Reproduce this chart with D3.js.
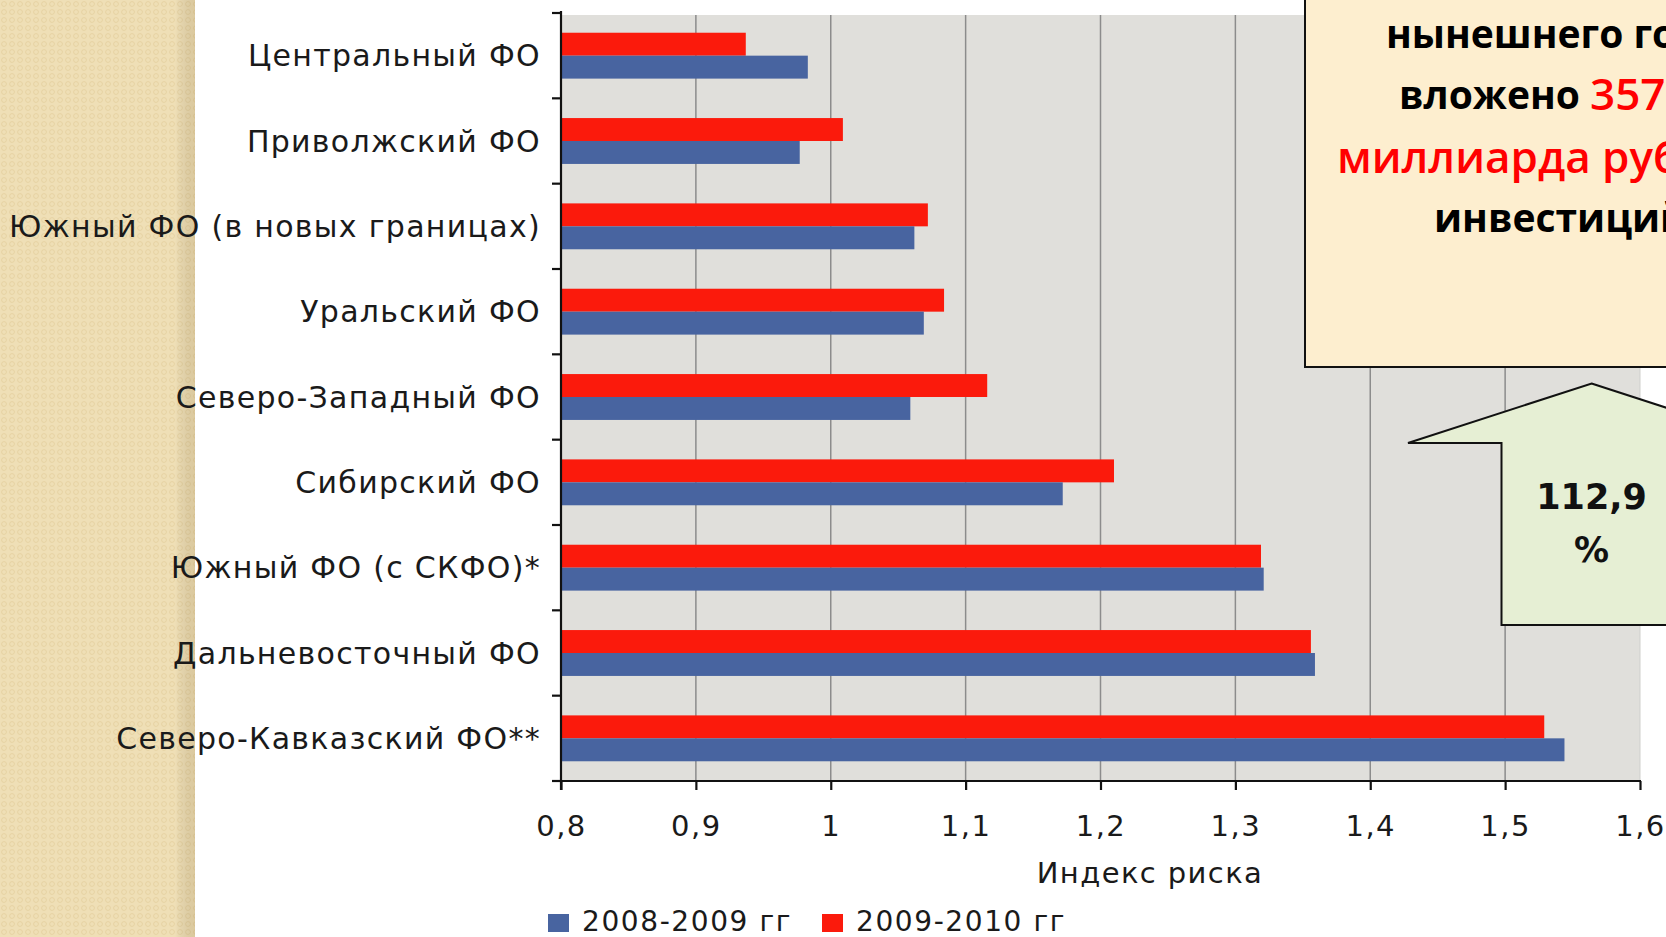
<!DOCTYPE html>
<html><head><meta charset="utf-8">
<script src="https://cdn.jsdelivr.net/npm/d3@7"></script>
<style>html,body{margin:0;padding:0;background:#fff;overflow:hidden}svg{display:block}</style>
</head><body>
<svg id="c" width="1666" height="937"></svg>
<script>
const categories = ["Центральный ФО","Приволжский ФО","Южный ФО (в новых границах)","Уральский ФО","Северо-Западный ФО","Сибирский ФО","Южный ФО (с СКФО)*","Дальневосточный ФО","Северо-Кавказский ФО**"];
const series = ["2009-2010 гг","2008-2009 гг"];
const values2009_2010 = [0.937,1.009,1.072,1.084,1.116,1.210,1.319,1.356,1.529];
const values2008_2009 = [0.983,0.977,1.062,1.069,1.059,1.172,1.321,1.359,1.544];
const xTicks = [0.8,0.9,1.0,1.1,1.2,1.3,1.4,1.5,1.6];
const legendItems = ["2008-2009 гг","2009-2010 гг"];
const colors = {"2008-2009 гг":"#4864a0","2009-2010 гг":"#fb1a0c"};
const xTitle = "Индекс риска";
const calloutLines = [["нынешнего года",null],["вложено ","357"],[null,"миллиарда рублей"],["инвестиций",null]];
const arrowText = ["112,9","%"];

const svg = d3.select("#c");
const defs = svg.append("defs");
const pat = defs.append("pattern").attr("id","tex").attr("width",8).attr("height",8).attr("patternUnits","userSpaceOnUse");
pat.append("rect").attr("width",8).attr("height",8).attr("fill","#efdfb6");
pat.append("circle").attr("cx",4).attr("cy",4).attr("r",2.4).attr("fill","none").attr("stroke","#e4d09f").attr("stroke-width",0.9);
const g1 = defs.append("linearGradient").attr("id","shade").attr("x1",0).attr("x2",1);
g1.append("stop").attr("offset",0).attr("stop-color","#000").attr("stop-opacity",0);
g1.append("stop").attr("offset",1).attr("stop-color","#8a6a30").attr("stop-opacity",0.18);

// left decorative panel
svg.append("rect").attr("x",0).attr("y",0).attr("width",195).attr("height",937).attr("fill","url(#tex)");
svg.append("rect").attr("x",175).attr("y",0).attr("width",20).attr("height",937).attr("fill","url(#shade)");

const x = d3.scaleLinear().domain([0.8,1.6]).range([561,1640]);
const y = d3.scaleBand().domain(categories).range([13,781]);
const ys = d3.scaleBand().domain(series).range([0,y.bandwidth()]).paddingOuter(0.86);

// plot background
svg.append("rect").attr("x",x(0.8)).attr("y",15).attr("width",x(1.6)-x(0.8)).attr("height",781-15).attr("fill","#e0dfdb");

// grid
svg.append("g").selectAll("line").data(xTicks.slice(1,-1)).join("line")
  .attr("x1",d=>x(d)).attr("x2",d=>x(d)).attr("y1",15).attr("y2",781)
  .attr("stroke","#8c8c8c").attr("stroke-width",1.5);
svg.append("line").attr("x1",x(1.6)).attr("x2",x(1.6)).attr("y1",15).attr("y2",781).attr("stroke","#cfcfcc").attr("stroke-width",1);

// bars
const rows = categories.map((c,i)=>({c, v:{"2009-2010 гг":values2009_2010[i],"2008-2009 гг":values2008_2009[i]}}));
const gb = svg.append("g");
rows.forEach(r=>{
  series.forEach(s=>{
    gb.append("rect").attr("x",x(0.8)).attr("y",y(r.c)+ys(s)).attr("width",x(r.v[s])-x(0.8)).attr("height",ys.bandwidth()).attr("fill",colors[s]);
  });
});

// y axis
const yAxisG = svg.append("g");
yAxisG.append("line").attr("x1",561).attr("x2",561).attr("y1",11).attr("y2",790).attr("stroke","#111").attr("stroke-width",2.2);
const bounds = categories.map(c=>y(c)).concat([y(categories[categories.length-1])+y.bandwidth()]);
yAxisG.selectAll("line.t").data(bounds).join("line").attr("class","t")
  .attr("x1",552).attr("x2",561).attr("y1",d=>d).attr("y2",d=>d).attr("stroke","#111").attr("stroke-width",2.2);
yAxisG.selectAll("text").data(categories).join("text")
  .attr("x",541).attr("y",d=>y(d)+y.bandwidth()/2).attr("text-anchor","end").attr("dominant-baseline","central")
  .attr("font-family","DejaVu Sans").attr("font-size",30).attr("letter-spacing",1.3).attr("fill","#1a1a1a").text(d=>d);

// x axis
const xAxisG = svg.append("g").attr("transform","translate(0,781)");
xAxisG.call(d3.axisBottom(x).tickValues(xTicks).tickSize(9).tickFormat(d=>d3.format(".1f")(d).replace(".",",").replace(/^1,0$/,"1")));
xAxisG.select(".domain").attr("stroke","#111").attr("stroke-width",2.2).attr("d","M553,0H1641");
xAxisG.selectAll(".tick line").attr("stroke","#111").attr("stroke-width",2.2);
xAxisG.selectAll(".tick text").attr("y",45).attr("dy","0.35em").attr("font-family","DejaVu Sans").attr("font-size",29).attr("letter-spacing",1.5).attr("fill","#1a1a1a");

svg.append("text").attr("x",1150).attr("y",873).attr("text-anchor","middle").attr("dominant-baseline","central")
  .attr("font-family","DejaVu Sans").attr("font-size",29).attr("letter-spacing",1.4).attr("fill","#1a1a1a").text(xTitle);

// legend
const lx = [548,822];
const lg = svg.append("g").selectAll("g").data(legendItems).join("g").attr("transform",(d,i)=>`translate(${lx[i]},0)`);
lg.append("rect").attr("x",0).attr("y",914).attr("width",21).attr("height",18).attr("fill",d=>colors[d]);
lg.append("text").attr("x",34).attr("y",921).attr("dominant-baseline","central").attr("font-family","DejaVu Sans").attr("font-size",28).attr("letter-spacing",1.6).attr("fill","#1a1a1a").text(d=>d);

// callout box
svg.append("rect").attr("x",1305).attr("y",-5).attr("width",400).attr("height",372).attr("fill","#fdeecf").attr("stroke","#111").attr("stroke-width",2);
const lineY = [32,93,156,216];
const lineX = [1386,1399,1337,1434];
calloutLines.forEach((ln,i)=>{
  const t = svg.append("text").attr("x",lineX[i]).attr("y",lineY[i]).attr("dominant-baseline","central")
    .attr("font-family","Open Sans").attr("font-weight","bold").attr("font-size",39);
  if(ln[0]) t.append("tspan").attr("fill","#000").text(ln[0]);
  if(ln[1]) t.append("tspan").attr("fill","#ff0000").attr("font-weight",600).attr("font-size",44).text(ln[1]);
});

// arrow callout
const ax0 = 1591.6;
const pts = [[ax0,383.5],[1775,443],[1682,443],[1682,625],[1501.5,625],[1501.5,443],[1408,443]];
svg.append("path").attr("d",d3.line()(pts)+"Z").attr("fill","#e6efd4").attr("stroke","#111").attr("stroke-width",2);
svg.selectAll("text.ar").data(arrowText).join("text").attr("class","ar")
  .attr("x",ax0).attr("y",(d,i)=>497+i*53).attr("text-anchor","middle").attr("dominant-baseline","central")
  .attr("font-family","DejaVu Sans").attr("font-weight","bold").attr("font-size",35).attr("fill","#111").text(d=>d);
</script>
</body></html>
